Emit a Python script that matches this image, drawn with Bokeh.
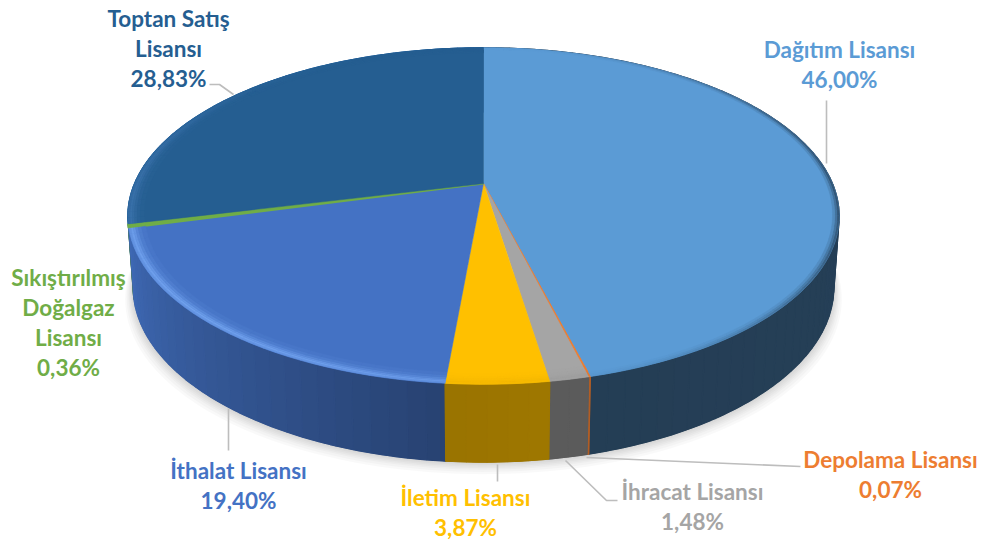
import numpy as np
from bokeh.plotting import figure
from bokeh.models import Range1d
from bokeh.core.properties import value
from bokeh.embed import file_html
from bokeh.resources import INLINE

# ---- data (clockwise from 12 o'clock)
names = ["Dağıtım Lisansı", "Depolama Lisansı", "İhracat Lisansı", "İletim Lisansı",
         "İthalat Lisansı", "Sıkıştırılmış Doğalgaz Lisansı", "Toptan Satış Lisansı"]
shares = [46.00, 0.07, 1.48, 3.87, 19.40, 0.36, 28.83]
pct_labels = ["46,00%", "0,07%", "1,48%", "3,87%", "19,40%", "0,36%", "28,83%"]
colors = ["#5B9BD5", "#ED7D31", "#A5A5A5", "#FFC000", "#4472C4", "#70AD47", "#255E91"]
label_lines = [["Dağıtım Lisansı"], ["Depolama Lisansı"], ["İhracat Lisansı"], ["İletim Lisansı"],
               ["İthalat Lisansı"], ["Sıkıştırılmış", "Doğalgaz", "Lisansı"], ["Toptan Satış", "Lisansı"]]
label_anchor = [(839, 49), (890, 459), (692, 491), (465, 497), (238, 470), (68, 277), (168, 18)]
LINE_STEP = 30

# ---- perspective pie geometry
CX, CY, RX, RY, K = 483.0, 183.0, 349.0, 162.0, 0.193
DROP, LOW = 70.0, 0.985

def top(a, r=1.0):
    u, v = r * np.sin(a), -r * np.cos(a)
    f = 1 / (1 - K * v)
    return CX + RX * u * f, CY + RY * v * f

def bottom(a):
    u, v = np.sin(a), -np.cos(a)
    f = 1 / (1 - K * v)
    return CX + RX * LOW * u * f, CY + RY * v * f + DROP * np.sqrt(f)

def hex2rgb(h):
    return np.array([int(h[i:i + 2], 16) for i in (1, 3, 5)], float)

def to_hex(c):
    c = np.clip(np.round(c), 0, 255).astype(int)
    return "#%02x%02x%02x" % tuple(c)

total = sum(shares)
edges = 2 * np.pi * np.cumsum([0] + shares) / total

p = figure(width=982, height=542, output_backend="svg", toolbar_location=None,
           x_range=Range1d(0, 982), y_range=Range1d(542, 0), min_border=0)
p.axis.visible = False
p.grid.visible = False
p.outline_line_color = None
p.background_fill_color = "white"
p.border_fill_color = "white"

# soft floor shadow
ring = np.linspace(np.pi * 0.35, np.pi * 1.7, 140)
bx, by = bottom(ring)
for grow in [16, 13, 10, 8, 6, 4, 2]:
    p.patch(np.r_[CX + (bx - CX) * (1 + grow / 700), CX], np.r_[by + grow * 0.75, CY + 100],
            fill_color="#000000", fill_alpha=0.022, line_color=None)

# side shading per slice: (start tone, end tone) multipliers of the slice colour
side_tone = {0: (0.42, 0.40), 1: (0.75, 0.75), 2: (0.55, 0.55), 3: (0.62, 0.60),
             4: (0.92, 0.58), 5: (0.8, 0.8), 6: (1.0, 1.0)}

# side wall: draw the slices from back to front
for i in [6, 0, 5, 1, 4, 2, 3]:
    a0, a1 = edges[i], edges[i + 1]
    n = max(1, int((a1 - a0) / np.radians(2.5)))
    aa = np.linspace(a0, a1, n + 1)
    t0, t1 = side_tone[i]
    base = hex2rgb(colors[i])
    if i == 4:          # bright on the left, dark towards the front
        base_seq = [base * (t1 + (t0 - t1) * ((j + 0.5) / n)) for j in range(n)]
    elif i == 6:
        base_seq = [np.array([30, 96, 160.]) for j in range(n)]
    else:
        base_seq = [base * (t0 + (t1 - t0) * ((j + 0.5) / n)) for j in range(n)]
    # a solid backing keeps the seams between the strips from showing
    fine = np.linspace(a0, a1, 3 * n + 2)
    xa, ya = top(fine)
    xb, yb = bottom(fine)
    backing = to_hex(base_seq[n // 2])
    p.patch(np.r_[xa, xb[::-1]], np.r_[ya, yb[::-1]], fill_color=backing, line_color=backing, line_width=0.5)
    for j in range(n):
        seg = np.linspace(aa[j], aa[j + 1], 4)
        xa, ya = top(seg)
        xb, yb = bottom(seg)
        c = to_hex(base_seq[j])
        p.patch(np.r_[xa, xb[::-1]], np.r_[ya, yb[::-1]], fill_color=c, line_color=c, line_width=1.2)

# top faces
for i, col in enumerate(colors):
    aa = np.linspace(edges[i], edges[i + 1], max(2, int((edges[i + 1] - edges[i]) / np.radians(1)) + 1))
    x, y = top(aa)
    lw = 2.0 if i == 5 else (1.0 if i == 1 else 0.5)
    p.patch(np.r_[CX, x], np.r_[CY, y], fill_color=col, line_color=col, line_width=lw)

# bevel: a thin soft band just inside the rim
bands = [(0.994, 1.0, 0.75), (0.988, 0.994, 1.0), (0.982, 0.988, 0.8),
         (0.975, 0.982, 0.5), (0.966, 0.975, 0.25), (0.955, 0.966, 0.1)]
glow = np.array([125, 175, 250.])
for i, col in enumerate(colors):
    a0, a1 = edges[i], edges[i + 1]
    n = max(1, int((a1 - a0) / np.radians(2)))
    aa = np.linspace(a0, a1, n + 1)
    base = hex2rgb(col)
    for j in range(n):
        mid = (aa[j] + aa[j + 1]) / 2
        if i == 4:
            light = max(0.0, np.cos(mid - np.radians(225))) ** 0.6 * 0.75
        elif i == 6:
            light = max(0.0, np.cos(mid - np.radians(262))) ** 3 * 0.22
        else:
            light = 0.0
        dark = max(0.0, np.sin(mid)) ** 2 * 0.45 if i == 0 else 0.0
        for r0, r1, w in bands:
            xa, ya = top(aa[j:j + 2], r1)
            xb, yb = top(aa[j:j + 2], r0)
            if i == 0:
                if r0 < 0.98:
                    continue
                c = base * (1 - dark * (r0 - 0.978) / 0.016)
            elif i in (1, 2, 3):
                c = base * (1 - 0.04 * w)
            else:
                c = base + (glow - base) * light * w
            hc = to_hex(c)
            p.patch(np.r_[xa, xb[::-1]], np.r_[ya, yb[::-1]], fill_color=hc, line_color=hc, line_width=0.4)

# leader lines
leaders = [([826, 826], [100, 163]),
           ([209, 219, 233], [84, 84, 94]),
           ([228, 228], [408, 450]),
           ([497, 497], [464, 481]),
           ([565, 606, 617], [460, 500, 500]),
           ([586, 800], [457, 466])]
for lx, ly in leaders:
    p.line(lx, ly, line_color="#BDBDBD", line_width=1.6)

# labels
for i, lines in enumerate(label_lines):
    ax, ay = label_anchor[i]
    rows = lines + [pct_labels[i]]
    p.text([ax] * len(rows), [ay + k * LINE_STEP for k in range(len(rows))], text=rows,
           text_color=colors[i], text_font=value("Lato"), text_font_style="bold",
           text_font_size="22.5px", text_align="center", text_baseline="middle")

open("out.html", "w").write(file_html(p, INLINE))
